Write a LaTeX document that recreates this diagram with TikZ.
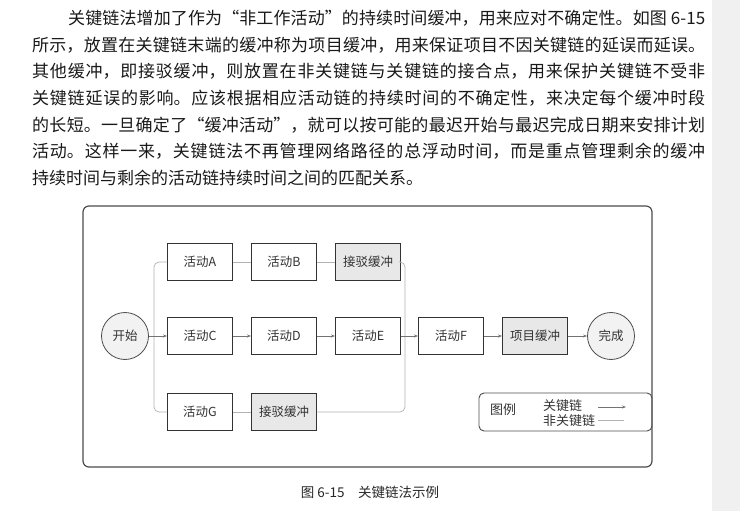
\documentclass[tikz,border=0pt]{standalone}
\usepackage{fontspec}
\setmainfont{Noto Sans CJK SC}
\usetikzlibrary{arrows.meta}
\XeTeXlinebreaklocale "zh"
\XeTeXlinebreakskip=0pt plus 1pt minus 0.6pt
\tikzset{act/.style={draw=black!80, line width=0.9pt, minimum width=65pt, minimum height=37pt, inner sep=0pt, text=black!80, font=\fontsize{12.5}{14}\selectfont}}
\tikzset{buf/.style={act, fill=black!9}}
\tikzset{ev/.style={circle, draw=black!70, line width=0.8pt, fill=black!5, minimum size=47pt, inner sep=0pt, text=black!80, font=\fontsize{12.5}{14}\selectfont}}
\tikzset{crit/.style={->, >={Stealth[length=4pt,width=3pt]}, draw=black!55, line width=0.8pt}}
\tikzset{ncrit/.style={draw=black!30, line width=0.7pt, rounded corners=5pt}}
\tikzset{lgtext/.style={anchor=west, inner sep=0pt, text=black!80, font=\fontsize{13}{14}\selectfont}}

\begin{document}
\begin{tikzpicture}[x=1pt, y=-1pt]
    \useasboundingbox (0,0) rectangle (740,511);
    \fill[black!6] (712,0) rectangle (740,511);
    \node[anchor=base west, text width=673pt, align=justify, inner sep=0pt, text=black!90, font=\fontsize{17}{26.67}\selectfont] (txt) at (32,24.5) {\tolerance=10000\hspace*{36pt}关键链法增加了作为“非工作活动”的持续时间缓冲，用来应对不确定性。如图 6-15\linebreak
    所示，放置在关键链末端的缓冲称为项目缓冲，用来保证项目不因关键链的延误而延误。\linebreak
    其他缓冲，即接驳缓冲，则放置在非关键链与关键链的接合点，用来保护关键链不受非\linebreak
    关键链延误的影响。应该根据相应活动链的持续时间的不确定性，来决定每个缓冲时段\linebreak
    的长短。一旦确定了“缓冲活动”，就可以按可能的最迟开始与最迟完成日期来安排计划\linebreak
    活动。这样一来，关键链法不再管理网络路径的总浮动时间，而是重点管理剩余的缓冲\linebreak
    持续时间与剩余的活动链持续时间之间的匹配关系。};
    \draw[black!70, line width=1.2pt, rounded corners=6pt] (83,206) rectangle (652,467);
    \node[ev] (st) at (125,336) {开始};
    \node[act] (a) at (200,262) {活动A};
    \node[act] (b) at (284,262) {活动B};
    \node[buf] (bt) at (368,262) {接驳缓冲};
    \node[act] (c) at (200,336) {活动C};
    \node[act] (d) at (284,336) {活动D};
    \node[act] (e) at (368,336) {活动E};
    \node[act] (f) at (451,336) {活动F};
    \node[buf] (pb) at (535,336) {项目缓冲};
    \node[ev] (fin) at (611,336) {完成};
    \node[act] (g) at (200,412) {活动G};
    \node[buf] (bb) at (284,412) {接驳缓冲};
    \coordinate (sp) at (154,336);
    \coordinate (jn) at (405,336);
    \draw[ncrit] (sp) |- (a);
    \draw[ncrit] (sp) |- (g);
    \draw[ncrit] (a) -- (b);
    \draw[ncrit] (b) -- (bt);
    \draw[ncrit] (g) -- (bb);
    \draw[ncrit] (bt) -| (jn);
    \draw[ncrit] (bb) -| (jn);
    \draw[crit] (st) -- (c);
    \draw[crit] (c) -- (d);
    \draw[crit] (d) -- (e);
    \draw[crit] (e) -- (f);
    \draw[crit] (f) -- (pb);
    \draw[crit] (pb) -- (fin);
    \node[draw=black!70, line width=0.9pt, rounded corners=5pt, minimum width=173pt, minimum height=38pt, inner sep=0pt] (lg) at (565.5,412) {};
    \node[lgtext] (lgh) at (490,410) {图例};
    \node[lgtext] (k1) at (543,406) {关键链};
    \node[lgtext] (k2) at (543,421) {非关键链};
    \coordinate (l1s) at (598,407);
    \coordinate (l1e) at (626,407);
    \coordinate (l2s) at (598,420);
    \coordinate (l2e) at (624,420);
    \draw[crit] (l1s) -- (l1e);
    \draw[ncrit] (l2s) -- (l2e);
    \node[text=black!85, font=\fontsize{13.5}{15}\selectfont] (cap) at (370,492) {图 6-15\quad 关键链法示例};
\end{tikzpicture}
\end{document}
